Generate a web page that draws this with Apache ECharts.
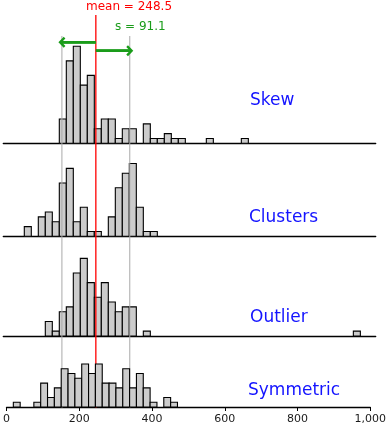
<!DOCTYPE html>
<html><head><meta charset="utf-8">
<script src="https://cdn.jsdelivr.net/npm/echarts@6/dist/echarts.min.js"></script>
<style>html,body{margin:0;padding:0;background:#fff}#c{width:389px;height:425px}</style>
</head><body><div id="c"></div>
<script>
// ---- data ----
const binWidth = 18.8;
const skewCounts      = [0,0,0,0,0,0,0,0,5,17,20,12,14,3,5,5,1,3,3,0,4,1,1,2,1,1,0,0,0,1,0,0,0,0,1];
const clusterCounts   = [0,0,0,2,0,4,5,3,11,14,3,6,1,1,0,4,10,13,15,6,1,1];
const outlierCounts   = [0,0,0,0,0,0,3,1,5,6,13,16,11,8,11,7,5,6,6,0,1,
                         0,0,0,0,0,0,0,0,0,0,0,0,0,0,0,0,0,0,0,0,0,0,0,0,0,0,0,0,0,1];
const symmetricCounts = [0,1,0,0,1,5,2,4,8,7,6,9,7,9,5,5,4,8,4,7,4,1,0,2,1];
const panelNames = ['Skew','Clusters','Outlier','Symmetric'];
const meanValue = 248.5;
const sdValue = 91.1;
const xTicks = [0,200,400,600,800,1000];

// ---- layout ----
const FONT = 'DejaVu Sans';
const gridLeft = 3.3, gridRight = 13.3;
const unitMax = 20, panelH = 97;
const baselines = [143.3, 236.3, 336, 408.3];
const labelPos = [[250,102],[249,219],[250,319],[248,392]];
const allCounts = [skewCounts, clusterCounts, outlierCounts, symmetricCounts];

const grids = baselines.map(b => ({left:gridLeft, right:gridRight, top:b-panelH, height:panelH}));
grids.push({left:gridLeft, right:gridRight, top:0, height:425});

const xAxes = grids.map((g,i) => ({
  type:'value', gridIndex:i, min:xTicks[0], max:xTicks[xTicks.length-1], interval:200,
  show: i<4,
  axisLine:{show:true, onZero:false, lineStyle:{color:'#000', width:1.3}},
  axisTick:{show:i===3, length:4, lineStyle:{color:'#000', width:1}},
  axisLabel:{show:i===3, margin:7, color:'#1a1a1a', fontFamily:FONT, fontSize:11},
  splitLine:{show:false}
}));
const yAxes = grids.map((g,i) => i<4
  ? {type:'value', gridIndex:i, min:0, max:unitMax, show:false}
  : {type:'value', gridIndex:i, min:0, max:425, inverse:true, show:false});

function histSeries(counts, gi, z){
  const data = counts.map((c,i)=>[i*binWidth,(i+1)*binWidth,c]).filter(d=>d[2]>0);
  return {
    type:'custom', xAxisIndex:gi, yAxisIndex:gi, z:z, data:data,
    encode:{x:[0,1], y:2},
    renderItem:function(params, api){
      const p0 = api.coord([api.value(0), 0]);
      const p1 = api.coord([api.value(1), api.value(2)]);
      return {type:'rect',
        shape:{x:p0[0], y:p1[1], width:p1[0]-p0[0], height:p0[1]-p1[1]},
        style:{fill:'#cccccc', stroke:'#000', lineWidth:1.1}};
    }
  };
}

const series = allCounts.map((c,i)=>histSeries(c, i, i===3 ? 6 : 2));

function vline(x, y0, y1, color, w){
  return {type:'line', xAxisIndex:4, yAxisIndex:4, z:4, symbol:'none', silent:true,
    data:[[x,y0],[x,y1]], lineStyle:{color:color, width:w}};
}
series.push(vline(meanValue - sdValue, 36, 408, '#aaaaaa', 1));
series.push(vline(meanValue + sdValue, 36, 408, '#aaaaaa', 1));
series.push(vline(meanValue, 15, 408, '#ff0000', 1.3));

const chevron = 'path://M5,0 L10,5 L8.4,6.6 L5,3.2 L1.6,6.6 L0,5 Z';
const green = '#1a9c1a';
function arrow(x0, x1, y){
  return {type:'line', xAxisIndex:4, yAxisIndex:4, z:5, symbol:'none', silent:true,
    data:[[x0,y],[x1,y]], lineStyle:{color:green, width:2.5},
    markLine:{silent:true, symbol:['none', chevron], symbolSize:[11,7],
      lineStyle:{color:green, width:2.5, type:'solid'}, label:{show:false},
      data:[[{coord:[x0,y]},{coord:[x1,y]}]]}};
}
series.push(arrow(meanValue, meanValue - sdValue, 42.3));
series.push(arrow(meanValue, meanValue + sdValue, 50.7));

const graphic = [
  {type:'text', left:86, top:1, z:10, style:{text:'mean = ' + meanValue, fill:'#ff0000', font:'12px "' + FONT + '"'}},
  {type:'text', left:115, top:21, z:10, style:{text:'s = ' + sdValue, fill:green, font:'12px "' + FONT + '"'}}
];
panelNames.forEach((n,i)=>{
  graphic.push({type:'text', left:labelPos[i][0], top:labelPos[i][1]-10, z:10,
    style:{text:n, fill:'#1414ff', font:'17px "' + FONT + '"'}});
});

const chart = echarts.init(document.getElementById('c'), null, {renderer:'canvas'});
chart.setOption({animation:false, backgroundColor:'#fff', grid:grids, xAxis:xAxes, yAxis:yAxes, series:series, graphic:graphic});
</script></body></html>
